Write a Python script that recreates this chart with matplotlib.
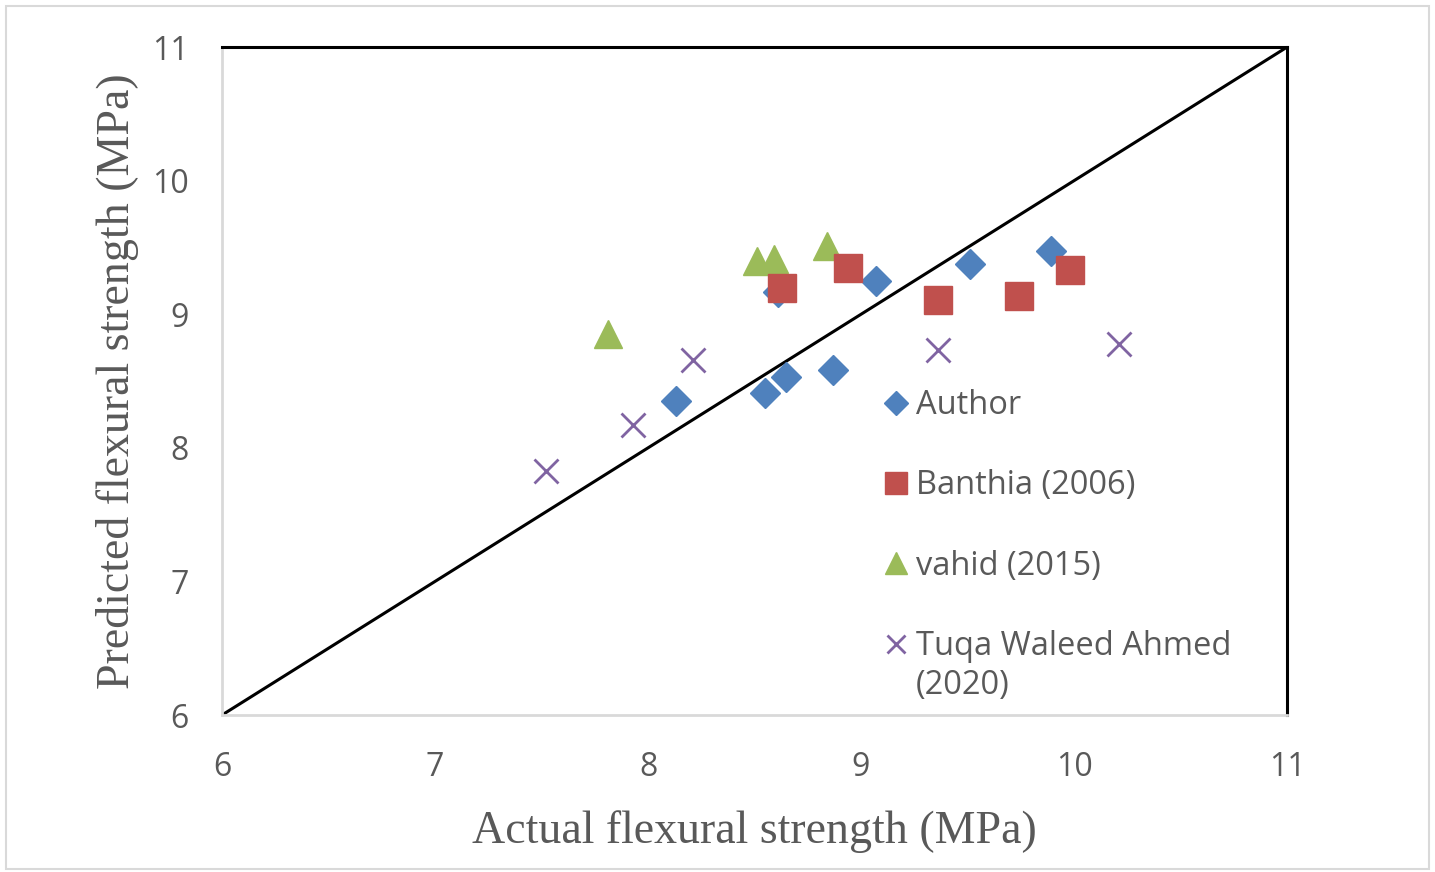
import matplotlib
matplotlib.use("Agg")
import matplotlib.pyplot as plt
from matplotlib.patches import Rectangle

# Data
author_x = [8.13, 8.55, 8.65, 8.87, 8.61, 9.07, 9.51, 9.89]
author_y = [8.35, 8.41, 8.53, 8.58, 9.17, 9.25, 9.38, 9.47]
banthia_x = [8.63, 8.94, 9.36, 9.74, 9.98]
banthia_y = [9.20, 9.35, 9.11, 9.14, 9.33]
vahid_x = [7.81, 8.51, 8.59, 8.84]
vahid_y = [8.85, 9.40, 9.41, 9.51]
tuqa_x = [7.52, 7.93, 8.21, 9.36, 10.21]
tuqa_y = [7.83, 8.17, 8.66, 8.73, 8.78]
line_xy = [6, 11]
ticks = [6, 7, 8, 9, 10, 11]

gray = "#595959"
fig = plt.figure(figsize=(14.35, 8.72), dpi=100)
ax = fig.add_axes([0.1547, 0.18, 0.7422, 0.766])

ax.plot(line_xy, line_xy, color="black", lw=2.2, zorder=2)
ax.plot(author_x, author_y, ls="none", marker="D", ms=15, color="#4F81BD",
        label="Author", zorder=3)
ax.plot(banthia_x, banthia_y, ls="none", marker="s", ms=20, color="#C0504D",
        label="Banthia (2006)", zorder=4)
ax.plot(vahid_x, vahid_y, ls="none", marker="^", ms=20, color="#9BBB59",
        label="vahid (2015)", zorder=3)
ax.plot(tuqa_x, tuqa_y, ls="none", marker="x", ms=17, mew=2, color="#8064A2",
        label="Tuqa Waleed Ahmed", zorder=3)

ax.set_xlim(6, 11)
ax.set_ylim(6, 11)
ax.set_xticks(ticks)
ax.set_yticks(ticks)
ax.tick_params(length=0, labelsize=23, labelcolor=gray, pad=24)
ax.tick_params(axis="x", pad=26)
for lab in ax.get_xticklabels() + ax.get_yticklabels():
    lab.set_family("Open Sans")
ax.spines["left"].set_color("#D9D9D9")
ax.spines["bottom"].set_color("#D9D9D9")
ax.spines["left"].set_linewidth(2)
ax.spines["bottom"].set_linewidth(2)
ax.spines["top"].set_color("black")
ax.spines["right"].set_color("black")
ax.spines["top"].set_linewidth(2.2)
ax.spines["right"].set_linewidth(2.2)

ax.set_xlabel("Actual flexural strength (MPa)", family="Liberation Serif",
              fontsize=33, color=gray, labelpad=19)
ax.set_ylabel("Predicted flexural strength (MPa)", family="Liberation Serif",
              fontsize=33, color=gray, labelpad=9)

leg = ax.legend(loc="upper left", bbox_to_anchor=(0.6085, 0.5075), frameon=False,
                prop={"family": "Open Sans", "size": 23.5}, labelcolor=gray,
                handlelength=0.8, handletextpad=0.22, labelspacing=1.45,
                markerscale=0.8, borderaxespad=0)
ax.text(0.651, 0.0435, "(2020)", transform=ax.transAxes, family="Open Sans",
        fontsize=23.5, color=gray, ha="left", va="center")

fig.patches.append(Rectangle((0.004, 0.003), 0.992, 0.99, transform=fig.transFigure,
                             fill=False, edgecolor="#D9D9D9", lw=1.5))
fig.savefig("out.png", dpi=100)
